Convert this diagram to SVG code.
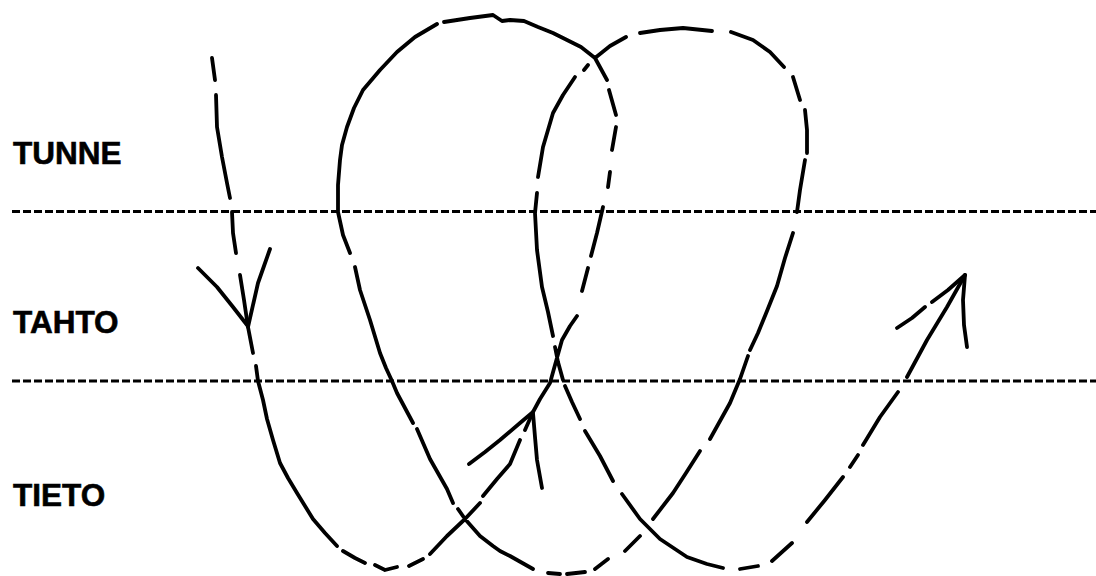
<svg xmlns="http://www.w3.org/2000/svg" width="1096" height="576" viewBox="0 0 1096 576">
<style>
.lbl{font-family:"Liberation Sans",Arial,sans-serif;font-weight:bold;font-size:31.5px;fill:#000;stroke:#000;stroke-width:0.6}
.band{stroke:#000;stroke-width:3.2;stroke-dasharray:8 3;fill:none}
.ink{stroke:#000;stroke-width:3.8;fill:none;stroke-linecap:round;stroke-linejoin:round}
</style>
<rect width="1096" height="576" fill="#fff"/>
<g id="band-lines">
<line class="band" x1="12" y1="211.5" x2="1096" y2="211.5"/>
<line class="band" x1="12" y1="381" x2="1096" y2="381"/>
</g>
<g id="label-tunne"><text class="lbl" x="13" y="164">TUNNE</text></g>
<g id="label-tahto"><text class="lbl" x="13" y="333">TAHTO</text></g>
<g id="label-tieto"><text class="lbl" x="13" y="506">TIETO</text></g>
<g id="connectors">
<path class="ink" d="
M212,58 L215,80
M216,95 L217,127 L222,157 L227,183 L230,198
M232,212 L233,233 L236,253
M240,275 L244,300 L248,327 L253,353
M256,366 L258,381 L263,400 L267,419 L273,440 L280,463 L288,478 L297,493 L313,519 L325,533 L337,546
M343,551 L355,558 L365,563
M375,565 L385,570 L397,567
M409,566 L423,559
M430,554 L447,536 L465,519 L480,503
M483,496 L497,479 L510,464 L520,440
M525,430 L533,412
M533,412 L540,399 L550,383 L555,365 L562,340 L570,326 L577,316
M582,291 L588,268
M591,256 L597,233 L603,207
M608,187 L610,172
M612,150 L616,127
M616,115 L609,90
M607,80 L595,58 L581,47 L567,40 L553,33 L538,27 L524,21 L510,20 L502,21 L493,15 L470,18 L444,22
M437,24 L415,37 L397,52 L380,70 L363,90 L354,108 L347,127 L342,145 L340,160 L338,185 L338,212 L343,235 L350,253
M355,267 L360,290 L370,320 L380,353 L386,368 L392,381 L397,393 L405,408 L413,423
M417,429 L430,459 L447,489 L453,503
M458,509 L465,519 L480,536 L493,546 L500,551 L510,556 L533,569
M548,573 L560,574
M567,574 L585,572
M595,569 L608,559
M625,551 L640,536
M653,519 L673,493 L686,473 L700,451
M710,439 L720,421 L730,403 L740,379 L748,356
M750,350 L758,333 L767,311 L777,286 L785,258 L793,233
M797,212 L800,190 L805,160
M807,153 L807,130 L805,110
M800,100 L793,77
M784,67 L770,52 L753,40 L731,32
M712,31 L683,28 L660,30 L640,33
M626,37 L610,46 L595,58
M588,65 L584,70
M575,77 L563,95 L553,113 L543,147 L538,177
M537,193 L535,213 L537,250 L542,287 L548,312 L553,336
M555,347 L558,362 L563,380
M565,386 L572,402 L580,419
M585,431 L600,456 L613,481
M622,494 L640,519 L660,539 L687,557 L707,564 L723,568
M740,569 L758,566
M772,561 L792,543
M807,522 L825,500 L843,477
M850,467 L858,455
M863,445 L880,417 L898,392
M907,377 L927,340 L947,307 L965,275"/>
<path class="ink" d="
M198,268 L217,287 L233,307 L247,325
M270,249 L264,266 L258,283 L248,327
M469,464 L485,452 L500,440 L520,423 L533,412
M533,413 L535,437 L537,460 L542,488
M897,328 L912,318 L925,307
M932,302 L948,290 L965,275
M965,275 L963,300 L964,325 L967,347"/>
</g>
</svg>
